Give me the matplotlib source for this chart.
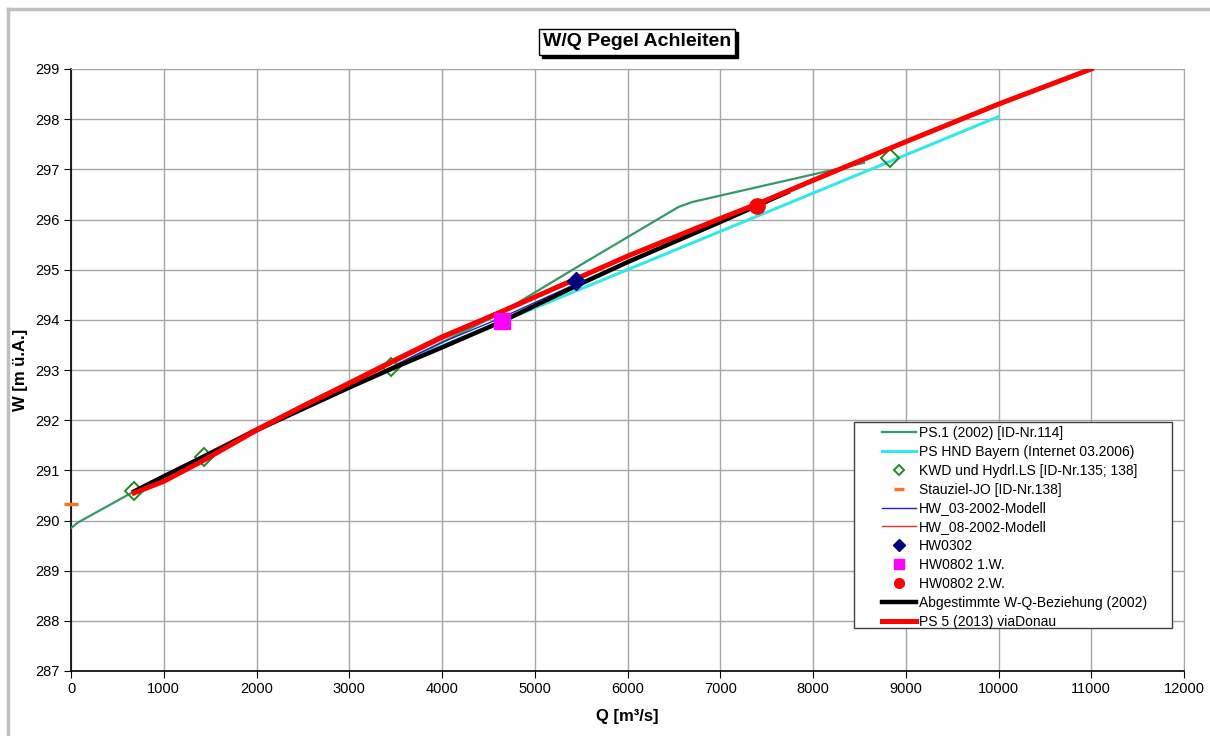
import matplotlib
matplotlib.use("Agg")
import matplotlib.pyplot as plt
from matplotlib.lines import Line2D
from matplotlib.patches import Rectangle

plt.rcParams['font.family'] = ['Liberation Sans', 'DejaVu Sans']

# ---- data ----
ps1_q = [0, 75, 680, 1430, 2000, 3450, 4600, 5500, 6550, 6700, 8550]
ps1_w = [289.85, 289.96, 290.58, 291.30, 291.80, 293.05, 294.10, 295.10, 296.25, 296.35, 297.13]

hnd_q = [3500, 4650, 10000]
hnd_w = [293.10, 293.97, 298.05]

kwd_q = [680, 1430, 3450, 8830]
kwd_w = [290.58, 291.27, 293.05, 297.22]

stau_q = [0]
stau_w = [290.32]

hw03_q = [3500, 4000, 4650, 5450]
hw03_w = [293.10, 293.55, 294.05, 294.72]

hw08_q = [680, 2000, 3450, 4000, 4650, 5450, 7400]
hw08_w = [290.60, 291.85, 293.20, 293.70, 294.20, 294.85, 296.30]

hw0302_q = [5450]
hw0302_w = [294.77]

hw0802a_q = [4650]
hw0802a_w = [293.98]

hw0802b_q = [7400]
hw0802b_w = [296.27]

abg_q = [680, 1000, 1430, 2000, 3000, 3450, 4000, 4650, 5450, 6000, 7000, 7730]
abg_w = [290.58, 290.88, 291.27, 291.80, 292.65, 293.02, 293.45, 293.97, 294.68, 295.15, 295.95, 296.55]

ps5_q = [680, 1000, 1430, 2000, 2500, 3000, 3450, 4000, 4650, 5450, 6000, 7000, 7400, 8000, 9000, 10000, 11000]
ps5_w = [290.55, 290.78, 291.20, 291.80, 292.28, 292.73, 293.15, 293.65, 294.17, 294.82, 295.27, 296.02, 296.31, 296.78, 297.55, 298.30, 299.00]

x_ticks = list(range(0, 12001, 1000))
y_ticks = list(range(287, 300))

labels = ['PS.1 (2002) [ID-Nr.114]', 'PS HND Bayern (Internet 03.2006)',
          'KWD und Hydrl.LS [ID-Nr.135; 138]', 'Stauziel-JO [ID-Nr.138]',
          'HW_03-2002-Modell', 'HW_08-2002-Modell', 'HW0302', 'HW0802 1.W.',
          'HW0802 2.W.', 'Abgestimmte W-Q-Beziehung (2002)', 'PS 5 (2013) viaDonau']

# ---- figure ----
W, H = 1210, 736
fig = plt.figure(figsize=(W / 100, H / 100), dpi=100)
ax = fig.add_axes([71 / W, 1 - 671 / H, (1184 - 71) / W, (671 - 69) / H])

ax.plot(ps1_q, ps1_w, color='#339966', lw=1.6, zorder=3)
ax.plot(hnd_q, hnd_w, color='#33E8E8', lw=2.2, zorder=3)
ax.plot(kwd_q, kwd_w, ls='none', marker='D', ms=9, mfc='none', mec='#1E8C1E', mew=1.4, zorder=4)
ax.plot(stau_q, stau_w, ls='none', marker='_', ms=10, mew=2.5, color='#F07828', zorder=6, clip_on=False)
ax.plot(hw03_q, hw03_w, color='#2222CC', lw=1.0, zorder=3)
ax.plot(hw08_q, hw08_w, color='#E83030', lw=1.0, zorder=3)
ax.plot(abg_q, abg_w, color='black', lw=3.2, zorder=4)
ax.plot(ps5_q, ps5_w, color='#FF0000', lw=3.6, zorder=5)
ax.plot(hw0302_q, hw0302_w, ls='none', marker='D', ms=9, color='#000080', zorder=7)
ax.plot(hw0802a_q, hw0802a_w, ls='none', marker='s', ms=12, color='#FF00FF', zorder=7)
ax.plot(hw0802b_q, hw0802b_w, ls='none', marker='o', ms=11, color='#FF0000', zorder=7)

ax.set_xlim(0, 12000)
ax.set_ylim(287, 299)
ax.set_xticks(x_ticks)
ax.set_yticks(y_ticks)
ax.grid(True, color='#A6A6A6', lw=1.0)
ax.set_axisbelow(True)
for s in ['top', 'right']:
    ax.spines[s].set_color('#A6A6A6')
for s in ['left', 'bottom']:
    ax.spines[s].set_color('black')
    ax.spines[s].set_linewidth(1.2)
ax.tick_params(axis='both', direction='out', length=5, labelsize=10.5, colors='black', pad=3)

ax.set_xlabel('Q [m³/s]', fontsize=12, fontweight='bold')
ax.set_ylabel('W [m ü.A.]', fontsize=12, fontweight='bold')
ax.xaxis.set_label_coords(0.5, -0.0635)
ax.yaxis.set_label_coords(-0.0386, 0.5)

# legend
leg_handles = [
    Line2D([], [], color='#339966', lw=1.6),
    Line2D([], [], color='#33E8E8', lw=2.2),
    Line2D([], [], ls='none', marker='D', ms=5, mfc='none', mec='#1E8C1E', mew=1.4),
    Line2D([], [], ls='none', marker='_', ms=7, mew=2.5, color='#F07828'),
    Line2D([], [], color='#2222CC', lw=1.0),
    Line2D([], [], color='#E83030', lw=1.0),
    Line2D([], [], ls='none', marker='D', ms=6, color='#000080'),
    Line2D([], [], ls='none', marker='s', ms=7, color='#FF00FF'),
    Line2D([], [], ls='none', marker='o', ms=7, color='#FF0000'),
    Line2D([], [], color='black', lw=3.2),
    Line2D([], [], color='#FF0000', lw=3.6),
]
frame = Rectangle((0.7035, 0.0714), 0.9892 - 0.7035, 0.4136 - 0.0714, transform=ax.transAxes,
                  fc='white', ec='#404040', lw=1.0, zorder=9, clip_on=False)
ax.add_patch(frame)
leg = ax.legend(leg_handles, labels, loc='upper left', bbox_to_anchor=(0.7287, 0.4070),
                fontsize=10, frameon=False, handlelength=2.45, handletextpad=0.2,
                labelspacing=0.35, borderpad=0.0, borderaxespad=0)
leg.set_zorder(10)

# title with shadow
tx, ty = 637 / W, 1 - 42 / H
t = fig.text(tx, ty, 'W/Q Pegel Achleiten', ha='center', va='center', fontsize=14, fontweight='bold',
             color='black', zorder=5,
             bbox=dict(boxstyle='square,pad=0.22', fc='white', ec='black', lw=1))
fig.canvas.draw()
bb = t.get_bbox_patch().get_window_extent(fig.canvas.get_renderer())
shadow = Rectangle((bb.x0 + 3, bb.y0 - 3), bb.width, bb.height, transform=None,
                   fc='black', ec='black', zorder=4)
fig.add_artist(shadow)

# outer chart border (top and left visible)
fig.add_artist(Line2D([8 / W, 1], [1 - 9 / H, 1 - 9 / H], transform=fig.transFigure, color='#BFBFBF', lw=2.5))
fig.add_artist(Line2D([8 / W, 8 / W], [0, 1 - 9 / H], transform=fig.transFigure, color='#BFBFBF', lw=2.5))

fig.savefig('out.png', dpi=100)
